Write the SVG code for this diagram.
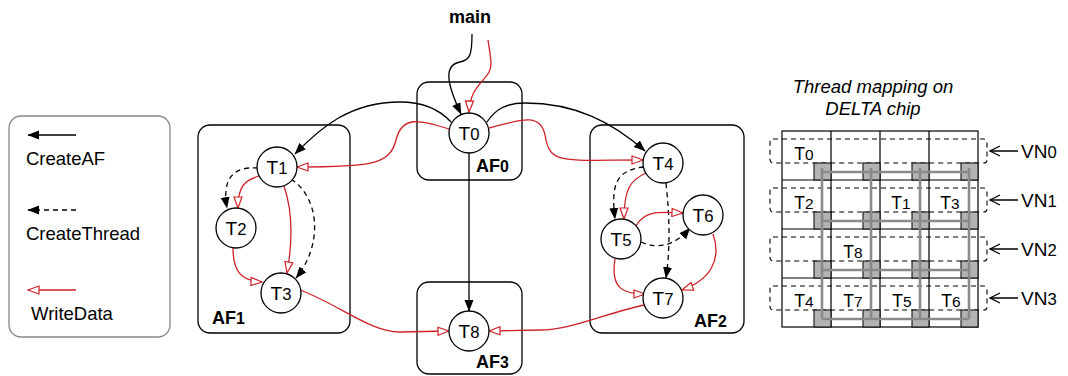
<svg xmlns="http://www.w3.org/2000/svg" width="1068" height="376" viewBox="0 0 1068 376">
<style>
text{font-family:"Liberation Sans",Arial,Helvetica,sans-serif;fill:#000}
.lbl{font-size:19px;text-anchor:middle}
.bold{font-weight:bold;font-size:18px}
.leg{font-size:18.5px}
.d{font-size:88%}
.box{fill:none;stroke:#000;stroke-width:1.3}
.node{fill:#fff;stroke:#000;stroke-width:1.3}
.blk{fill:none;stroke:#000;stroke-width:1.3;marker-end:url(#ab)}
.dsh{fill:none;stroke:#000;stroke-width:1.3;stroke-dasharray:5 4;marker-end:url(#ab)}
.red{fill:none;stroke:#cf2027;stroke-width:1.3;marker-end:url(#ar)}
.cell{fill:#fff;stroke:#000;stroke-width:1.2}
.vn{fill:none;stroke:#000;stroke-width:1.1;stroke-dasharray:5 4}
.rt{fill:#b3b3b3;stroke:#000;stroke-width:1}
.mesh{fill:none;stroke:#8a8a8a;stroke-width:2.6}
.cl{font-size:17.5px;text-anchor:middle}
.vt{font-size:19px}
.tt{font-size:18.5px;font-style:italic;text-anchor:middle}
</style>
<defs>
<marker id="ab" viewBox="0 0 12 10" refX="11" refY="5" markerWidth="12" markerHeight="10" markerUnits="userSpaceOnUse" orient="auto">
<path d="M0,0.5 L11.5,5 L0,9.5 Z" fill="#000"/>
</marker>
<marker id="ar" viewBox="0 0 13 10" refX="12" refY="5" markerWidth="13" markerHeight="10" markerUnits="userSpaceOnUse" orient="auto">
<path d="M1,1 L12,5 L1,9 Z" fill="#fff" stroke="#cf2027" stroke-width="1.2"/>
</marker>
</defs>

<g id="legend">
<rect x="9" y="116" width="161" height="221" rx="12" fill="#fff" stroke="#888" stroke-width="1.3"/>
<path d="M76,135 L28,135" class="blk"/>
<text x="26" y="165" class="leg">CreateAF</text>
<path d="M76,210 L28,210" class="dsh"/>
<text x="26" y="240" class="leg">CreateThread</text>
<path d="M76,290 L28,290" class="red"/>
<text x="31" y="320" class="leg">WriteData</text>
</g>

<g id="AF0"><rect x="417" y="82" width="105" height="98" rx="12" class="box"/><text x="476" y="172" class="bold">AF<tspan class="d">0</tspan></text></g>
<g id="AF1"><rect x="198" y="125" width="152" height="208" rx="12" class="box"/><text x="212" y="324" class="bold">AF<tspan class="d">1</tspan></text></g>
<g id="AF2"><rect x="590" y="125" width="154" height="208" rx="12" class="box"/><text x="694" y="327" class="bold">AF<tspan class="d">2</tspan></text></g>
<g id="AF3"><rect x="417" y="282" width="105" height="92" rx="12" class="box"/><text x="476" y="368" class="bold">AF<tspan class="d">3</tspan></text></g>

<text x="470" y="23" class="bold" text-anchor="middle">main</text>

<g id="connectors">
<path d="M472,34 C472,55 470,60 460,62 C444,65 446,82 461,114" class="blk"/>
<path d="M488,40 C490,55 493,65 489,72 C484,82 470,88 469,112" class="red"/>
<path d="M451,122 C440,110 425,102 400,102 C350,102 320,128 295,154" class="blk"/>
<path d="M449,129 C420,120 402,115 396,140 C390,165 370,167 297,167" class="red"/>
<path d="M487,122 C495,110 505,103 525,103 C575,103 612,122 645,151" class="blk"/>
<path d="M489,128 C515,122 540,110 545,135 C550,165 560,160 643,160" class="red"/>
<path d="M469,153 L469,311" class="blk"/>
<path d="M300,290 C340,305 370,332 400,332 L449,331" class="red"/>
<path d="M644,305 C600,315 570,330 540,330 L489,331" class="red"/>
<path d="M258,168 C232,166 222,180 227,208" class="dsh"/>
<path d="M259,176 C245,180 238,186 238,208" class="red"/>
<path d="M284,186 C294,215 292,245 287,273" class="red"/>
<path d="M291,179 C320,198 323,245 296,278" class="dsh"/>
<path d="M233,248 C233,270 240,281 262,282" class="red"/>
<path d="M644,167 C615,170 611,186 615,219" class="dsh"/>
<path d="M646,173 C630,180 624,190 624,219" class="red"/>
<path d="M666,183 C670,220 670,250 666,278" class="dsh"/>
<path d="M636,226 C645,210 660,212 683,213" class="red"/>
<path d="M641,242 C660,250 675,245 690,228" class="dsh"/>
<path d="M615,259 C610,290 625,294 645,294" class="red"/>
<path d="M713,234 C722,260 710,280 682,290" class="red"/>
</g>

<g id="T0"><circle cx="469" cy="133" r="20" class="node"/><text x="469" y="140" class="lbl">T<tspan class="d">0</tspan></text></g>
<g id="T1"><circle cx="277" cy="167" r="20" class="node"/><text x="277" y="174" class="lbl">T<tspan class="d">1</tspan></text></g>
<g id="T2"><circle cx="236" cy="228" r="20" class="node"/><text x="236" y="235" class="lbl">T<tspan class="d">2</tspan></text></g>
<g id="T3"><circle cx="281" cy="293" r="20" class="node"/><text x="281" y="300" class="lbl">T<tspan class="d">3</tspan></text></g>
<g id="T4"><circle cx="663" cy="163" r="20" class="node"/><text x="663" y="170" class="lbl">T<tspan class="d">4</tspan></text></g>
<g id="T5"><circle cx="621" cy="239" r="20" class="node"/><text x="621" y="246" class="lbl">T<tspan class="d">5</tspan></text></g>
<g id="T6"><circle cx="703" cy="215" r="20" class="node"/><text x="703" y="222" class="lbl">T<tspan class="d">6</tspan></text></g>
<g id="T7"><circle cx="663" cy="298" r="20" class="node"/><text x="663" y="305" class="lbl">T<tspan class="d">7</tspan></text></g>
<g id="T8"><circle cx="469" cy="331" r="20" class="node"/><text x="469" y="338" class="lbl">T<tspan class="d">8</tspan></text></g>

<g id="chip">
<text x="873" y="93" class="tt">Thread mapping on</text>
<text x="873" y="115" class="tt">DELTA chip</text>
<rect x="782" y="131" width="196" height="196" class="cell"/>
<path d="M831,131V327M880,131V327M929,131V327M782,180H978M782,229H978M782,278H978" stroke="#000" stroke-width="1.2" fill="none"/>
<rect x="770" y="139" width="217" height="24" rx="3" class="vn"/>
<rect x="770" y="188" width="217" height="24" rx="3" class="vn"/>
<rect x="770" y="237" width="217" height="24" rx="3" class="vn"/>
<rect x="770" y="286" width="217" height="24" rx="3" class="vn"/>
<g>
<rect x="814" y="163" width="17" height="17" class="rt"/><rect x="863" y="163" width="17" height="17" class="rt"/><rect x="912" y="163" width="17" height="17" class="rt"/><rect x="961" y="163" width="17" height="17" class="rt"/>
<rect x="814" y="212" width="17" height="17" class="rt"/><rect x="863" y="212" width="17" height="17" class="rt"/><rect x="912" y="212" width="17" height="17" class="rt"/><rect x="961" y="212" width="17" height="17" class="rt"/>
<rect x="814" y="261" width="17" height="17" class="rt"/><rect x="863" y="261" width="17" height="17" class="rt"/><rect x="912" y="261" width="17" height="17" class="rt"/><rect x="961" y="261" width="17" height="17" class="rt"/>
<rect x="814" y="310" width="17" height="17" class="rt"/><rect x="863" y="310" width="17" height="17" class="rt"/><rect x="912" y="310" width="17" height="17" class="rt"/><rect x="961" y="310" width="17" height="17" class="rt"/>
</g>
<path d="M822,168V319M871,168V319M920,168V319M969,168V319M822,172H969M822,221H969M822,270H969M822,319H969" class="mesh"/>
<text x="804" y="160" class="cl">T<tspan class="d">0</tspan></text>
<text x="804" y="209" class="cl">T<tspan class="d">2</tspan></text>
<text x="901" y="209" class="cl">T<tspan class="d">1</tspan></text>
<text x="950" y="209" class="cl">T<tspan class="d">3</tspan></text>
<text x="853" y="258" class="cl">T<tspan class="d">8</tspan></text>
<text x="804" y="307" class="cl">T<tspan class="d">4</tspan></text>
<text x="853" y="307" class="cl">T<tspan class="d">7</tspan></text>
<text x="902" y="307" class="cl">T<tspan class="d">5</tspan></text>
<text x="951" y="307" class="cl">T<tspan class="d">6</tspan></text>
<path d="M1018,151H990M1018,200H990M1018,249H990M1018,298H990" stroke="#000" stroke-width="1.3" fill="none"/>
<path d="M1000,146L990,151L1000,156M1000,195L990,200L1000,205M1000,244L990,249L1000,254M1000,293L990,298L1000,303" stroke="#000" stroke-width="1.3" fill="none"/>
<text x="1021" y="158" class="vt">VN<tspan class="d">0</tspan></text>
<text x="1021" y="207" class="vt">VN<tspan class="d">1</tspan></text>
<text x="1021" y="256" class="vt">VN<tspan class="d">2</tspan></text>
<text x="1021" y="305" class="vt">VN<tspan class="d">3</tspan></text>
</g>
</svg>
